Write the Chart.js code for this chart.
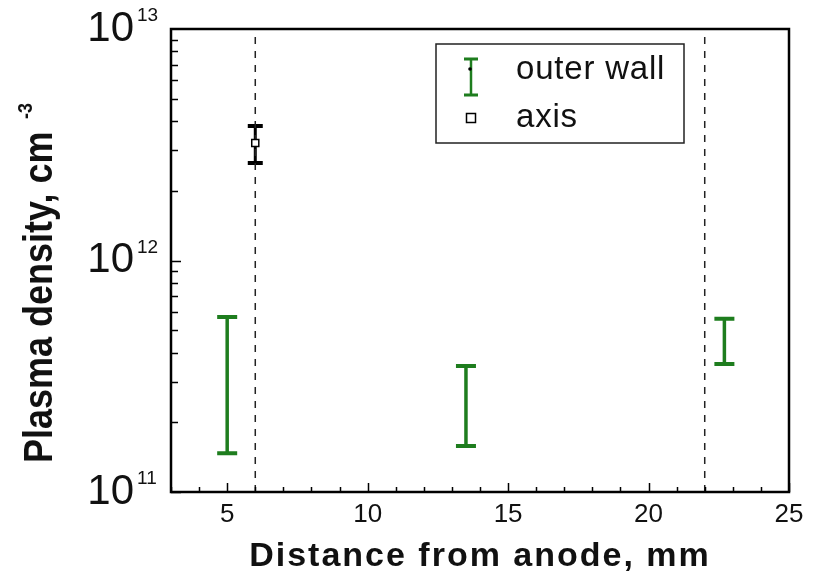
<!DOCTYPE html>
<html>
<head>
<meta charset="utf-8">
<script src="https://cdn.jsdelivr.net/npm/chart.js@4.4.0/dist/chart.umd.min.js"></script>
<style>
html, body { margin: 0; padding: 0; background: #fff; }
#wrap { width: 815px; height: 583px; }
</style>
</head>
<body>
<div id="wrap"><canvas id="chart"></canvas></div>
<script>
// outer wall: green error bars (no visible centre point)
const wallX = [5, 13.5, 22.7];
const wallMid = [2.9e11, 2.35e11, 4.47e11];
const wallLow = [1.47e11, 1.58e11, 3.57e11];
const wallHigh = [5.7e11, 3.5e11, 5.6e11];

// axis: open square with black error bar
const axisX = [6];
const axisY = [3.22e12];
const axisLow = [2.64e12];
const axisHigh = [3.81e12];

// dashed vertical lines
const boundX = [6, 22];

// tick labels
const xTicks = [5, 10, 15, 20, 25];
const yTicks = [1e11, 1e12, 1e13];
const yExp = ['11', '12', '13'];

const xMin = 3, xMax = 25, yMin = 1e11, yMax = 1e13;
const FONT = "'Liberation Sans', Arial, sans-serif";
const GREEN = '#1e7d1e';

// 誤差棒を描く
const errorBars = {
	id: 'errorBars',
	beforeDatasetsDraw(chart) {
		const ctx = chart.ctx, xs = chart.scales.x, ys = chart.scales.y;
		chart.data.datasets.forEach(ds => {
			if (!ds.lows) return;
			ctx.save();
			ctx.strokeStyle = ds.barColor;
			ctx.lineCap = 'butt';
			ds.data.forEach((p, i) => {
				const px = xs.getPixelForValue(p.x);
				const top = ys.getPixelForValue(ds.highs[i]);
				const bot = ys.getPixelForValue(ds.lows[i]);
				ctx.lineWidth = ds.barWidth;
				ctx.beginPath();
				ctx.moveTo(px, top);
				ctx.lineTo(px, bot);
				ctx.stroke();
				ctx.lineWidth = ds.capThick;
				ctx.beginPath();
				ctx.moveTo(px - ds.capW / 2, top); ctx.lineTo(px + ds.capW / 2, top);
				ctx.moveTo(px - ds.capW / 2, bot); ctx.lineTo(px + ds.capW / 2, bot);
				ctx.stroke();
			});
			ctx.restore();
		});
	}
};

// 枠、内向き目盛り、上付き、軸タイトル、凡例
const decor = {
	id: 'decor',
	afterDraw(chart) {
		const ctx = chart.ctx, ca = chart.chartArea;
		const xs = chart.scales.x, ys = chart.scales.y;
		ctx.save();
		ctx.strokeStyle = '#000';
		ctx.lineWidth = 1.5;
		// x ticks (inward, every 1 mm)
		ctx.beginPath();
		for (let v = xMin; v <= xMax; v++) {
			const px = Math.round(xs.getPixelForValue(v)) + 0.5;
			const len = v % 5 === 0 ? 9 : 5;
			ctx.moveTo(px, ca.bottom);
			ctx.lineTo(px, ca.bottom - len);
		}
		// y ticks (log minors)
		for (let d = 11; d < 13; d++) {
			for (let m = 1; m <= 9; m++) {
				const v = m * Math.pow(10, d);
				const py = Math.round(ys.getPixelForValue(v)) + 0.5;
				const len = m === 1 ? 10 : 7;
				ctx.moveTo(ca.left, py);
				ctx.lineTo(ca.left + len, py);
			}
		}
		ctx.stroke();
		// frame
		ctx.lineWidth = 2.5;
		ctx.strokeRect(ca.left, ca.top, ca.right - ca.left, ca.bottom - ca.top);

		// exponents of y labels
		ctx.fillStyle = '#111';
		ctx.font = '19px ' + FONT;
		ctx.textAlign = 'left';
		ctx.textBaseline = 'middle';
		yTicks.forEach((v, i) => {
			const py = ys.getPixelForValue(v);
			ctx.fillText(yExp[i], ca.left - 34, py - 13);
		});

		// x title
		ctx.font = 'bold 34px ' + FONT;
		ctx.textAlign = 'center';
		ctx.textBaseline = 'middle';
		ctx.letterSpacing = '2px';
		ctx.fillText('Distance from anode, mm', (ca.left + ca.right) / 2, 557);
		ctx.letterSpacing = '0px';

		// y title (rotated)
		ctx.save();
		ctx.translate(52, 463);
		ctx.rotate(-Math.PI / 2);
		ctx.scale(0.9, 1);
		ctx.font = 'bold 40px ' + FONT;
		ctx.textAlign = 'left';
		ctx.textBaseline = 'alphabetic';
		const main = 'Plasma density, cm';
		ctx.fillText(main, 0, 0);
		const w = ctx.measureText(main).width;
		ctx.font = 'bold 20px ' + FONT;
		ctx.fillText('-3', w + 14, -20);
		ctx.restore();

		// legend box
		const lx = ca.left + 265, ly = ca.top + 15, lw = 248, lh = 99;
		ctx.lineWidth = 1.5;
		ctx.strokeStyle = '#222';
		ctx.strokeRect(lx, ly, lw, lh);
		// outer wall symbol
		const sx = lx + 35;
		ctx.strokeStyle = GREEN;
		ctx.lineWidth = 2.5;
		ctx.beginPath();
		ctx.moveTo(sx, ly + 15); ctx.lineTo(sx, ly + 51);
		ctx.stroke();
		ctx.lineWidth = 3;
		ctx.beginPath();
		ctx.moveTo(sx - 7, ly + 15); ctx.lineTo(sx + 7, ly + 15);
		ctx.moveTo(sx - 7, ly + 51); ctx.lineTo(sx + 7, ly + 51);
		ctx.stroke();
		ctx.fillStyle = '#000';
		ctx.beginPath();
		ctx.arc(sx - 1, ly + 25, 1.8, 0, Math.PI * 2);
		ctx.fill();
		// axis symbol
		ctx.strokeStyle = '#000';
		ctx.lineWidth = 1.5;
		ctx.strokeRect(sx - 4.5, ly + 69.5, 9, 9);
		// legend texts
		ctx.fillStyle = '#111';
		ctx.font = '33px ' + FONT;
		ctx.textAlign = 'left';
		ctx.textBaseline = 'middle';
		ctx.letterSpacing = '0.8px';
		ctx.fillText(chart.data.datasets[0].label, lx + 80, ly + 26);
		ctx.fillText(chart.data.datasets[1].label, lx + 80, ly + 74);
		ctx.restore();
	}
};

const ctx = document.querySelector('#chart');
const chart = new Chart(ctx, {
	type: 'scatter',
	data: {
		datasets: [{
			label: 'outer wall',
			data: wallX.map((x, i) => ({ x: x, y: wallMid[i] })),
			lows: wallLow,
			highs: wallHigh,
			barColor: GREEN,
			barWidth: 3.5,
			capThick: 4,
			capW: 20,
			pointRadius: 0,
			borderColor: GREEN,
			backgroundColor: GREEN,
			order: 1
		}, {
			label: 'axis',
			data: axisX.map((x, i) => ({ x: x, y: axisY[i] })),
			lows: axisLow,
			highs: axisHigh,
			barColor: '#000',
			barWidth: 3,
			capThick: 4,
			capW: 15,
			pointStyle: 'rect',
			pointRadius: 5,
			borderWidth: 1.5,
			borderColor: '#000',
			backgroundColor: '#fff',
			order: 0
		}, ...boundX.map(b => ({
			label: 'boundary',
			data: [{ x: b, y: yMin }, { x: b, y: yMax }],
			showLine: true,
			borderColor: '#222',
			borderWidth: 1.5,
			borderDash: [7, 7],
			pointRadius: 0,
			order: 3
		}))]
	},
	options: {
		responsive: true,
		maintainAspectRatio: false,
		animation: false,
		layout: { padding: { top: 29, right: 26, left: 0, bottom: 0 } },
		plugins: { legend: { display: false }, tooltip: { enabled: false } },
		scales: {
			x: {
				type: 'linear',
				min: xMin,
				max: xMax,
				afterBuildTicks: s => { s.ticks = xTicks.map(v => ({ value: v })); },
				afterFit: s => { s.height = 91; },
				grid: { display: false, drawTicks: false, tickLength: 0 },
				border: { display: false },
				ticks: { padding: 7, color: '#111', font: { family: FONT, size: 26 } }
			},
			y: {
				type: 'logarithmic',
				min: yMin,
				max: yMax,
				afterBuildTicks: s => { s.ticks = yTicks.map(v => ({ value: v })); },
				afterFit: s => { s.width = 171; s.paddingTop = 0; s.paddingBottom = 0; },
				grid: { display: false, drawTicks: false, tickLength: 0 },
				border: { display: false },
				ticks: { padding: 37, color: '#111', font: { family: FONT, size: 42, lineHeight: 0.1 }, callback: () => '10' }
			}
		}
	},
	plugins: [errorBars, decor]
});
</script>
</body>
</html>
